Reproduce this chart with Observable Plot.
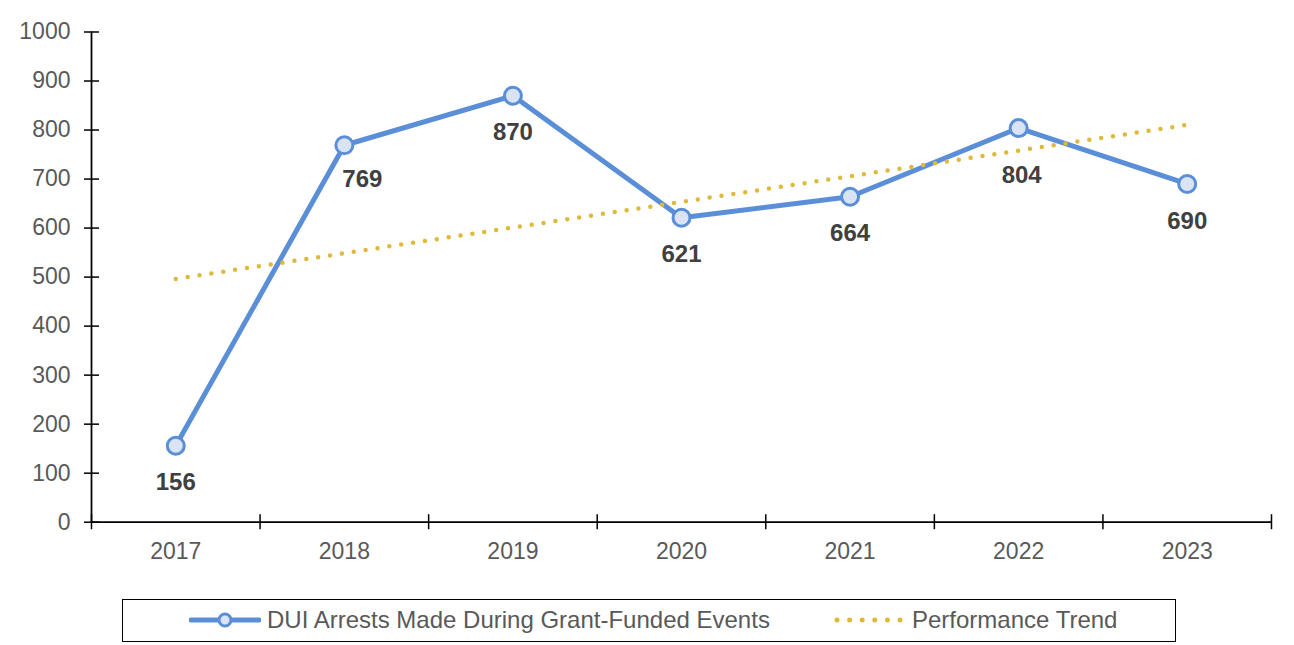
<!DOCTYPE html>
<html><head><meta charset="utf-8">
<script src="https://cdn.jsdelivr.net/npm/d3@7"></script>
<script src="https://cdn.jsdelivr.net/npm/@observablehq/plot@0.6"></script>
<style>
html,body{margin:0;padding:0;background:#fff;}
body{position:relative;width:1294px;height:645px;overflow:hidden;font-family:"Liberation Sans",Arial,sans-serif;}
#legend{position:absolute;left:122px;top:599px;width:1054px;height:43px;box-sizing:border-box;border:1.5px solid #000;}
#legend .item{position:absolute;top:0;height:40px;display:flex;align-items:center;font-size:24px;color:#595959;white-space:nowrap;}
#legend svg{display:block;margin-right:6px;}
</style></head><body>
<div id="chart"></div>
<div id="legend"></div>
<script>
const years = [2017, 2018, 2019, 2020, 2021, 2022, 2023];
const arrests = [156, 769, 870, 621, 664, 804, 690];
const yTicks = [0, 100, 200, 300, 400, 500, 600, 700, 800, 900, 1000];
const xBounds = [2016.5, 2017.5, 2018.5, 2019.5, 2020.5, 2021.5, 2022.5, 2023.5];
const seriesName = "DUI Arrests Made During Grant-Funded Events";
const trendName = "Performance Trend";

const blue = "#5A8FD8", markerFill = "#DAE3F3", gold = "#DFB93A";
const data = years.map((year, i) => ({year, value: arrests[i]}));

const labelStyle = {x: "year", y: "value", text: d => String(d.value), fill: "#404040", fontWeight: "bold", fontSize: 24};

const chart = Plot.plot({
  width: 1294,
  height: 585,
  marginLeft: 91,
  marginRight: 23,
  marginTop: 31.5,
  marginBottom: 63.3,
  style: {fontFamily: "'Liberation Sans', Arial, sans-serif", fontSize: "23px", background: "#fff"},
  x: {domain: [2016.5, 2023.5], label: null},
  y: {domain: [0, 1000], label: null},
  marks: [
    Plot.axisY({ticks: yTicks, tickSize: 0, tickPadding: 21, tickFormat: d => String(d), fill: "#595959", label: null, fontSize: 23}),
    Plot.axisY({ticks: yTicks, tickSize: 15, dx: 8, fill: "none", stroke: "#000", strokeWidth: 1.5, label: null}),
    Plot.axisX({ticks: years, tickSize: 0, tickPadding: 20, tickFormat: d => String(d), fill: "#595959", label: null, fontSize: 23}),
    Plot.axisX({ticks: xBounds, tickSize: 15, dy: -7.5, fill: "none", stroke: "#000", strokeWidth: 1.5, label: null}),
    Plot.ruleX([2016.5], {stroke: "#000", strokeWidth: 1.75}),
    Plot.ruleY([0], {stroke: "#000", strokeWidth: 1.75}),
    Plot.line(data, {x: "year", y: "value", stroke: blue, strokeWidth: 5, strokeLinejoin: "round"}),
    Plot.linearRegressionY(data, {x: "year", y: "value", ci: 0, stroke: gold, strokeWidth: 4.5, strokeDasharray: "0 12", strokeLinecap: "round"}),
    Plot.dot(data, {x: "year", y: "value", r: 8.5, fill: markerFill, stroke: blue, strokeWidth: 3}),
    Plot.text(data, {...labelStyle, filter: d => d.year !== 2018 && d.year !== 2022, dy: 37}),
    Plot.text(data, {...labelStyle, filter: d => d.year === 2018, dx: 18, dy: 34}),
    Plot.text(data, {...labelStyle, filter: d => d.year === 2022, dx: 3, dy: 47})
  ]
});
document.getElementById("chart").appendChild(chart);

// legend
const legend = document.getElementById("legend");
legend.innerHTML = `
<div class="item" style="left:66px">
  <svg width="72" height="20"><line x1="2" y1="10" x2="70" y2="10" stroke="${blue}" stroke-width="5" stroke-linecap="round"/><circle cx="36" cy="10" r="6" fill="${markerFill}" stroke="${blue}" stroke-width="3"/></svg>
  <span>${seriesName}</span>
</div>
<div class="item" style="left:711px">
  <svg width="72" height="20"><line x1="3" y1="10" x2="68" y2="10" stroke="${gold}" stroke-width="5" stroke-dasharray="0 12.6" stroke-linecap="round"/></svg>
  <span>${trendName}</span>
</div>`;
</script>
</body></html>
